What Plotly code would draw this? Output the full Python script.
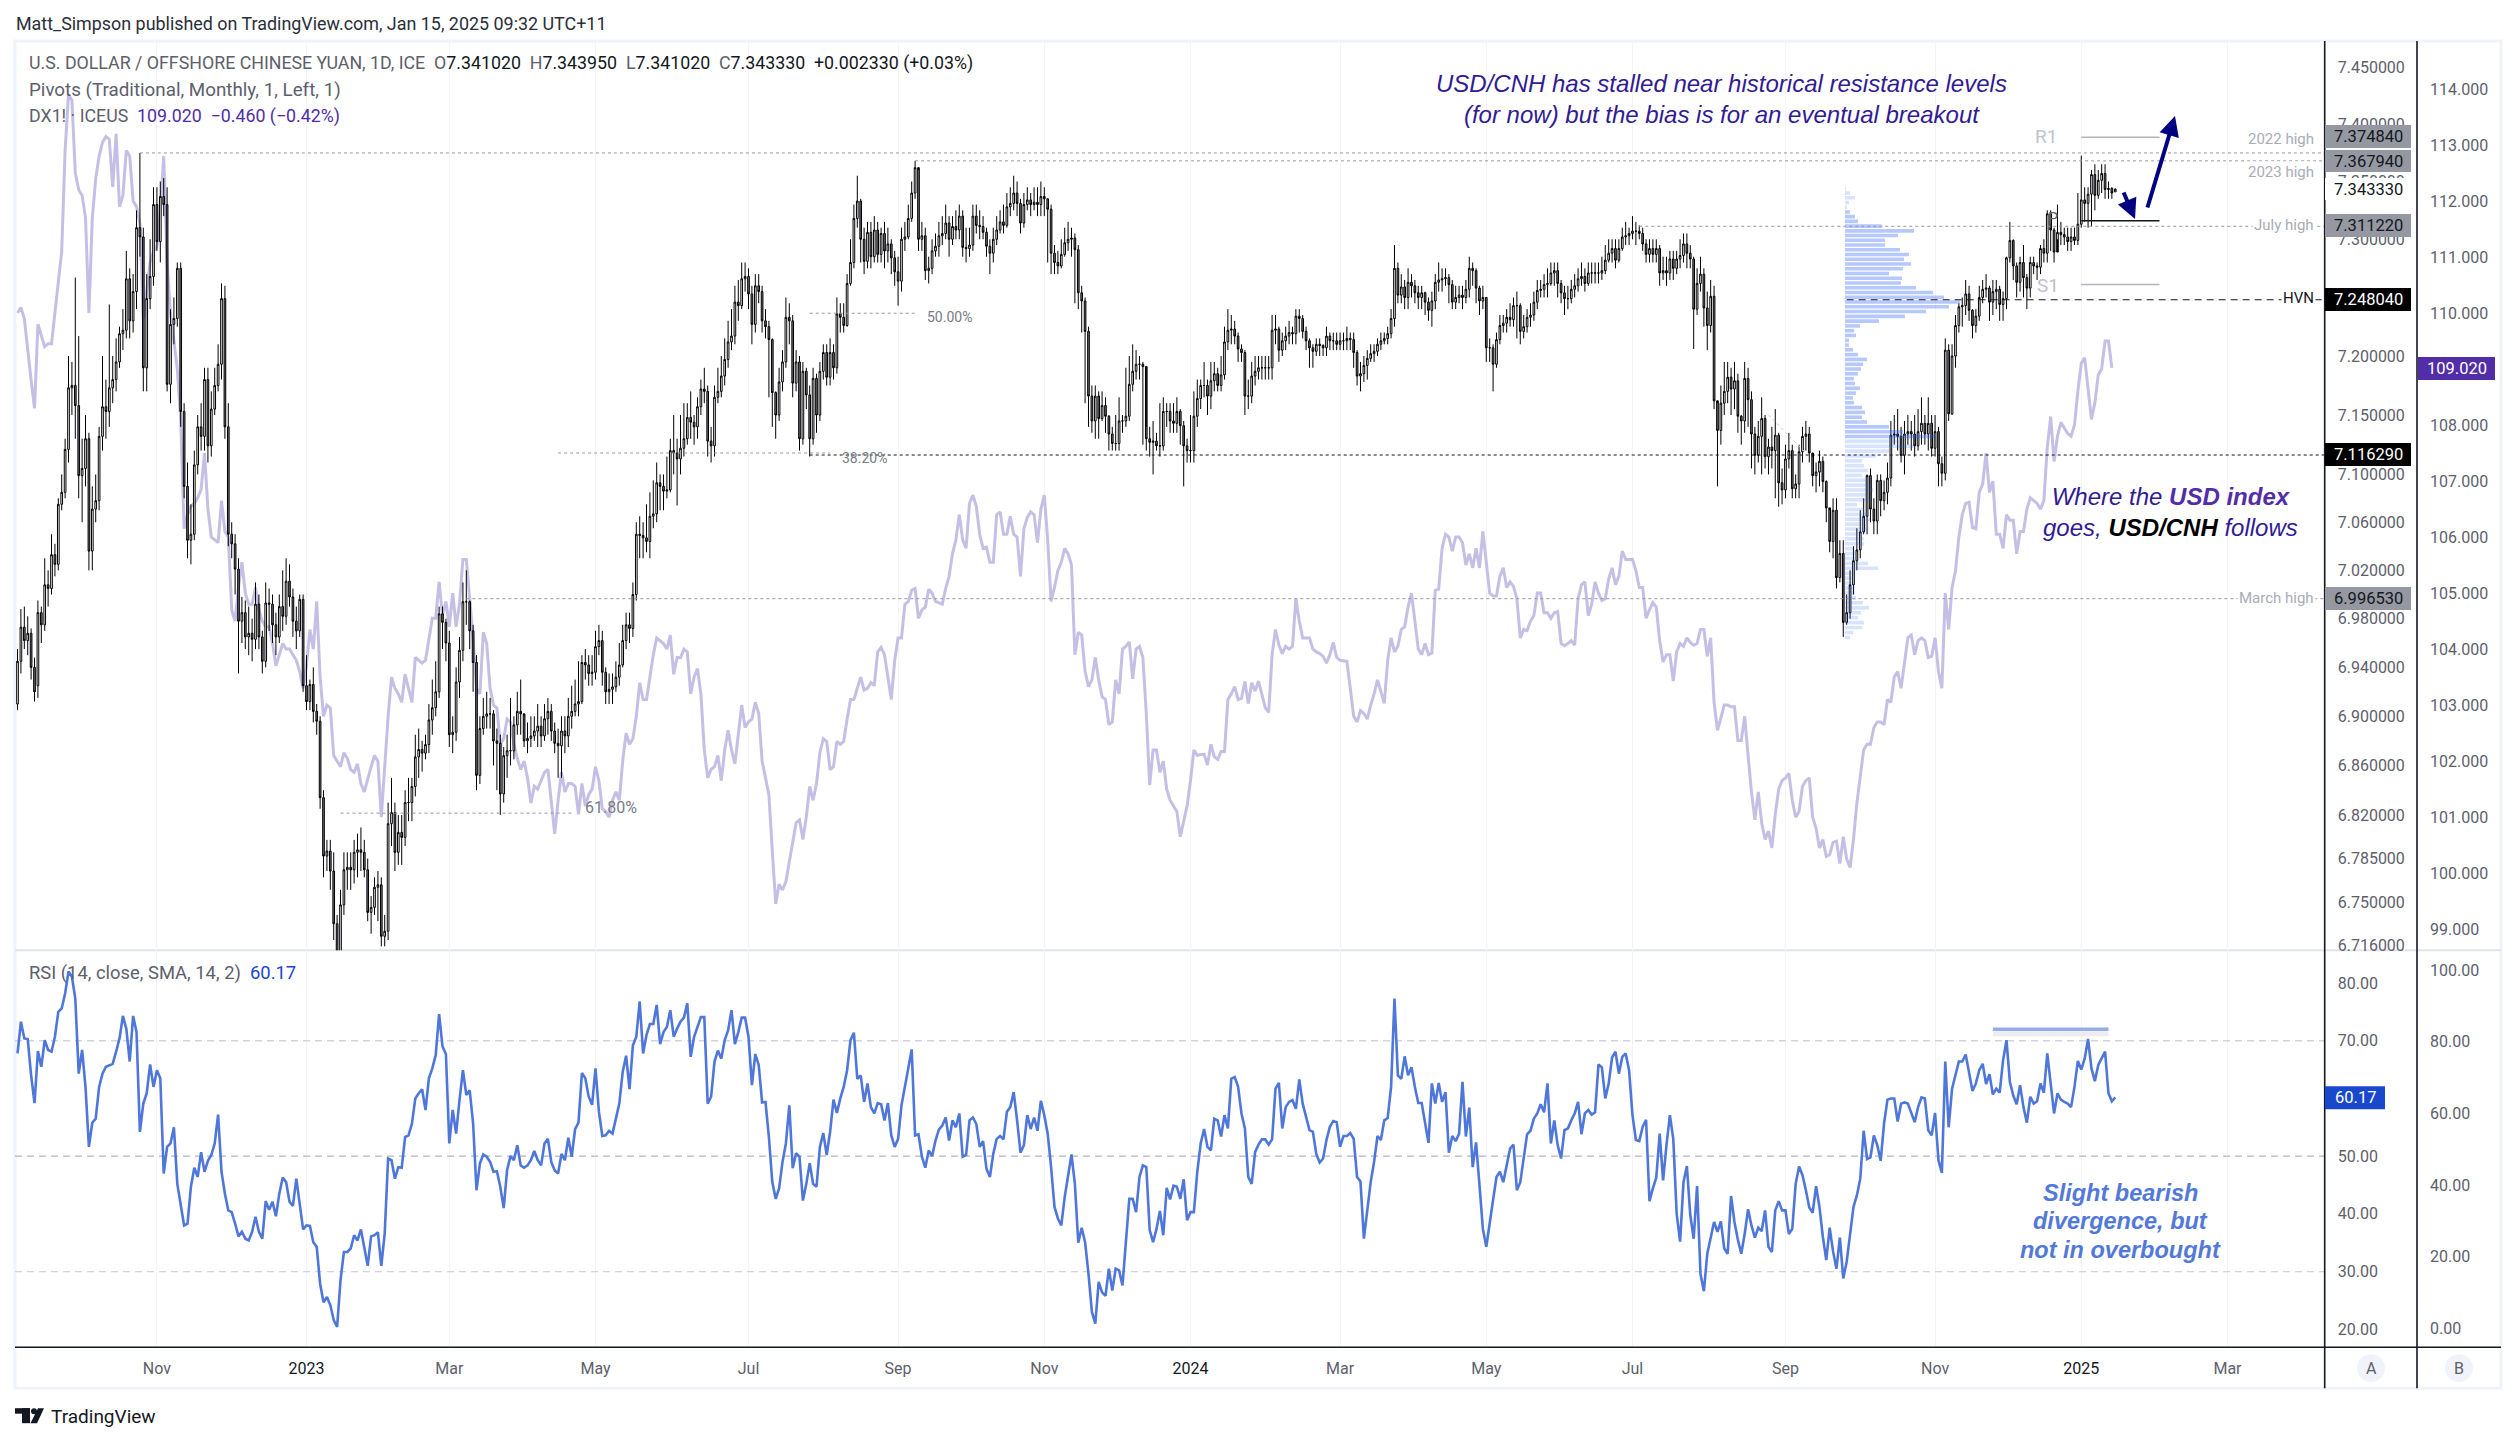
import pandas as pd
import plotly.graph_objects as go

W, H = 2516, 1442

closes = [
6.945,6.973,6.962,6.968,6.940,6.920,6.985,6.975,7.008,7.005,7.033,7.025,7.075,7.085,7.121,7.173,7.175,7.158,7.099,7.105,
7.130,7.036,7.071,7.078,7.132,7.157,7.153,7.173,7.180,7.195,7.219,7.222,7.266,7.230,7.255,7.310,7.302,7.190,7.249,7.268,
7.330,7.298,7.337,7.330,7.176,7.227,7.232,7.275,7.153,7.090,7.045,7.050,7.108,7.140,7.132,7.180,7.124,7.155,7.175,7.193,
7.249,7.140,7.050,7.042,7.021,6.978,6.985,6.965,6.968,6.963,6.992,6.965,6.945,6.993,6.992,6.975,6.965,6.990,6.982,7.011,
6.998,6.978,6.970,6.996,6.925,6.912,6.926,6.904,6.896,6.834,6.787,6.791,6.775,6.733,6.705,6.748,6.776,6.778,6.776,6.790,
6.792,6.790,6.776,6.742,6.746,6.762,6.764,6.723,6.727,6.813,6.822,6.790,6.806,6.802,6.830,6.830,6.843,6.867,6.873,6.870,
6.877,6.897,6.907,6.920,6.984,6.977,6.960,6.885,6.887,6.928,6.954,6.994,6.994,6.970,6.944,6.852,6.890,6.900,6.902,6.902,
6.880,6.878,6.837,6.868,6.872,6.872,6.893,6.904,6.902,6.880,6.882,6.884,6.888,6.892,6.884,6.898,6.904,6.888,6.878,6.876,
6.888,6.884,6.900,6.904,6.910,6.912,6.944,6.942,6.935,6.936,6.957,6.962,6.936,6.920,6.922,6.924,6.932,6.942,6.962,6.975,
6.972,7.000,7.050,7.049,7.047,7.044,7.065,7.067,7.093,7.090,7.086,7.087,7.120,7.118,7.113,7.122,7.130,7.148,7.144,7.140,
7.157,7.172,7.170,7.128,7.124,7.165,7.170,7.183,7.197,7.212,7.217,7.246,7.243,7.266,7.268,7.253,7.227,7.260,7.255,7.230,
7.225,7.214,7.169,7.150,7.178,7.195,7.233,7.230,7.177,7.195,7.130,7.187,7.167,7.130,7.181,7.150,7.187,7.203,7.182,7.203,
7.190,7.236,7.233,7.226,7.262,7.280,7.318,7.333,7.300,7.281,7.306,7.285,7.308,7.287,7.305,7.290,7.296,7.284,7.272,7.264,
7.300,7.302,7.318,7.340,7.362,7.300,7.303,7.273,7.275,7.290,7.294,7.303,7.305,7.314,7.300,7.311,7.308,7.320,7.293,7.292,
7.295,7.320,7.312,7.311,7.306,7.294,7.288,7.300,7.308,7.315,7.312,7.328,7.331,7.340,7.331,7.314,7.330,7.334,7.330,7.332,
7.330,7.337,7.335,7.326,7.288,7.280,7.277,7.287,7.297,7.300,7.301,7.291,7.254,7.247,7.221,7.166,7.145,7.166,7.147,7.158,
7.149,7.134,7.126,7.126,7.145,7.145,7.149,7.176,7.187,7.193,7.193,7.191,7.130,7.127,7.128,7.124,7.124,7.153,7.153,7.145,
7.143,7.153,7.141,7.124,7.120,7.120,7.149,7.164,7.175,7.175,7.166,7.179,7.185,7.175,7.184,7.212,7.222,7.223,7.217,7.206,
7.203,7.166,7.166,7.183,7.187,7.190,7.190,7.190,7.190,7.222,7.223,7.205,7.213,7.217,7.220,7.219,7.234,7.232,7.221,7.213,
7.207,7.204,7.210,7.209,7.207,7.217,7.213,7.213,7.210,7.213,7.213,7.215,7.214,7.203,7.183,7.185,7.192,7.198,7.202,7.204,
7.210,7.213,7.215,7.219,7.232,7.275,7.252,7.259,7.250,7.263,7.260,7.254,7.250,7.254,7.246,7.239,7.247,7.263,7.265,7.266,
7.267,7.261,7.246,7.250,7.252,7.250,7.257,7.275,7.273,7.258,7.247,7.250,7.207,7.207,7.193,7.214,7.226,7.228,7.233,7.231,
7.243,7.243,7.221,7.225,7.233,7.235,7.246,7.256,7.257,7.261,7.262,7.271,7.273,7.262,7.254,7.249,7.249,7.257,7.260,7.266,
7.268,7.262,7.271,7.271,7.271,7.271,7.273,7.282,7.288,7.292,7.282,7.292,7.302,7.303,7.305,7.307,7.307,7.305,7.296,7.287,
7.292,7.287,7.292,7.271,7.273,7.271,7.283,7.275,7.283,7.286,7.296,7.288,7.283,7.240,7.262,7.270,7.241,7.226,7.251,7.162,
7.137,7.160,7.170,7.182,7.172,7.179,7.149,7.145,7.181,7.163,7.134,7.116,7.132,7.147,7.115,7.123,7.120,7.133,7.093,7.087,
7.113,7.120,7.088,7.092,7.119,7.132,7.134,7.118,7.099,7.102,7.111,7.094,7.072,7.044,7.070,7.014,7.034,6.977,6.985,7.008,
7.028,7.037,7.052,7.065,7.099,7.071,7.061,7.095,7.078,7.085,7.097,7.133,7.134,7.132,7.116,7.134,7.136,7.134,7.124,7.136,
7.143,7.134,7.143,7.122,7.136,7.109,7.101,7.205,7.151,7.200,7.226,7.242,7.243,7.253,7.239,7.226,7.234,7.250,7.257,7.258,
7.246,7.255,7.257,7.244,7.249,7.284,7.299,7.277,7.263,7.280,7.267,7.258,7.280,7.277,7.276,7.292,7.288,7.322,7.308,7.289,
7.306,7.304,7.302,7.298,7.302,7.299,7.313,7.334,7.331,7.339,7.356,7.338,7.351,7.357,7.343,7.344,7.340,7.34333,
]

opens = [
6.910,6.945,6.973,6.962,6.968,6.940,6.925,6.985,6.975,7.008,7.005,7.033,7.025,7.075,7.085,7.121,7.173,7.175,7.158,7.099,
7.105,7.130,7.036,7.071,7.078,7.132,7.157,7.153,7.173,7.180,7.195,7.219,7.222,7.266,7.230,7.255,7.310,7.302,7.190,7.249,
7.268,7.330,7.298,7.337,7.330,7.176,7.227,7.232,7.275,7.153,7.090,7.045,7.050,7.108,7.140,7.132,7.180,7.124,7.155,7.175,
7.193,7.249,7.140,7.050,7.042,7.021,6.978,6.985,6.965,6.968,6.963,6.992,6.965,6.945,6.993,6.992,6.975,6.965,6.990,6.982,
7.011,6.998,6.978,6.970,6.996,6.925,6.912,6.926,6.904,6.896,6.834,6.787,6.791,6.775,6.733,6.705,6.748,6.776,6.778,6.776,
6.790,6.792,6.790,6.776,6.742,6.746,6.762,6.764,6.723,6.727,6.813,6.822,6.790,6.806,6.802,6.830,6.830,6.843,6.867,6.873,
6.870,6.877,6.897,6.907,6.920,6.984,6.977,6.960,6.885,6.887,6.928,6.954,6.994,6.994,6.970,6.944,6.852,6.890,6.900,6.902,
6.902,6.880,6.878,6.837,6.868,6.872,6.872,6.893,6.904,6.902,6.880,6.882,6.884,6.888,6.892,6.884,6.898,6.904,6.888,6.878,
6.876,6.888,6.884,6.900,6.904,6.910,6.912,6.944,6.942,6.935,6.936,6.957,6.962,6.936,6.920,6.922,6.924,6.932,6.942,6.962,
6.975,6.972,7.000,7.050,7.049,7.047,7.044,7.065,7.067,7.093,7.090,7.086,7.087,7.120,7.118,7.113,7.122,7.130,7.148,7.144,
7.140,7.157,7.172,7.170,7.128,7.124,7.165,7.170,7.183,7.197,7.212,7.217,7.246,7.243,7.266,7.268,7.253,7.227,7.260,7.255,
7.230,7.225,7.214,7.169,7.150,7.178,7.195,7.233,7.230,7.177,7.195,7.130,7.187,7.167,7.130,7.181,7.150,7.187,7.203,7.182,
7.203,7.190,7.236,7.233,7.226,7.262,7.280,7.318,7.333,7.300,7.281,7.306,7.285,7.308,7.287,7.305,7.290,7.296,7.284,7.272,
7.264,7.300,7.302,7.318,7.340,7.362,7.300,7.303,7.273,7.275,7.290,7.294,7.303,7.305,7.314,7.300,7.311,7.308,7.320,7.293,
7.292,7.295,7.320,7.312,7.311,7.306,7.294,7.288,7.300,7.308,7.315,7.312,7.328,7.331,7.340,7.331,7.314,7.330,7.334,7.330,
7.332,7.330,7.337,7.335,7.326,7.288,7.280,7.277,7.287,7.297,7.300,7.301,7.291,7.254,7.247,7.221,7.166,7.145,7.166,7.147,
7.158,7.149,7.134,7.126,7.126,7.145,7.145,7.149,7.176,7.187,7.193,7.193,7.191,7.130,7.127,7.128,7.124,7.124,7.153,7.153,
7.145,7.143,7.153,7.141,7.124,7.120,7.120,7.149,7.164,7.175,7.175,7.166,7.179,7.185,7.175,7.184,7.212,7.222,7.223,7.217,
7.206,7.203,7.166,7.166,7.183,7.187,7.190,7.190,7.190,7.190,7.222,7.223,7.205,7.213,7.217,7.220,7.219,7.234,7.232,7.221,
7.213,7.207,7.204,7.210,7.209,7.207,7.217,7.213,7.213,7.210,7.213,7.213,7.215,7.214,7.203,7.183,7.185,7.192,7.198,7.202,
7.204,7.210,7.213,7.215,7.219,7.232,7.275,7.252,7.259,7.250,7.263,7.260,7.254,7.250,7.254,7.246,7.239,7.247,7.263,7.265,
7.266,7.267,7.261,7.246,7.250,7.252,7.250,7.257,7.275,7.273,7.258,7.247,7.250,7.207,7.207,7.193,7.214,7.226,7.228,7.233,
7.231,7.243,7.243,7.221,7.225,7.233,7.235,7.246,7.256,7.257,7.261,7.262,7.271,7.273,7.262,7.254,7.249,7.249,7.257,7.260,
7.266,7.268,7.262,7.271,7.271,7.271,7.271,7.273,7.282,7.288,7.292,7.282,7.292,7.302,7.303,7.305,7.307,7.307,7.305,7.296,
7.287,7.292,7.287,7.292,7.271,7.273,7.271,7.283,7.275,7.283,7.286,7.296,7.288,7.283,7.240,7.262,7.270,7.241,7.226,7.251,
7.162,7.137,7.160,7.170,7.182,7.172,7.179,7.149,7.145,7.181,7.163,7.134,7.116,7.132,7.147,7.115,7.123,7.120,7.133,7.093,
7.087,7.113,7.120,7.088,7.092,7.119,7.132,7.134,7.118,7.099,7.102,7.111,7.094,7.072,7.044,7.070,7.014,7.034,6.977,6.985,
7.008,7.028,7.037,7.052,7.065,7.099,7.071,7.061,7.095,7.078,7.085,7.097,7.133,7.134,7.132,7.116,7.134,7.136,7.134,7.124,
7.136,7.143,7.134,7.143,7.122,7.136,7.109,7.101,7.205,7.151,7.200,7.226,7.242,7.243,7.253,7.239,7.226,7.234,7.250,7.257,
7.258,7.246,7.255,7.257,7.244,7.249,7.284,7.299,7.277,7.263,7.280,7.267,7.258,7.280,7.277,7.276,7.292,7.288,7.322,7.308,
7.289,7.306,7.304,7.302,7.298,7.302,7.299,7.313,7.334,7.331,7.339,7.356,7.338,7.351,7.357,7.343,7.344,7.34102,
]

highs = [
6.955,6.988,6.990,6.982,6.972,6.948,6.995,6.990,7.030,7.020,7.050,7.042,7.080,7.100,7.130,7.200,7.195,7.267,7.217,7.130,
7.150,7.135,7.090,7.100,7.140,7.200,7.180,7.244,7.200,7.215,7.225,7.240,7.290,7.275,7.270,7.325,7.3748,7.310,7.270,7.300,
7.345,7.345,7.350,7.353,7.345,7.240,7.250,7.280,7.280,7.160,7.110,7.075,7.120,7.150,7.160,7.190,7.190,7.170,7.190,7.210,
7.262,7.260,7.160,7.060,7.050,7.030,6.998,6.995,6.990,6.980,7.010,7.000,6.970,7.010,7.005,7.000,6.985,7.000,7.020,7.030,
7.025,7.005,6.990,7.000,7.000,6.950,6.930,6.940,6.910,6.900,6.840,6.800,6.800,6.790,6.740,6.760,6.790,6.790,6.790,6.800,
6.805,6.810,6.800,6.785,6.755,6.770,6.775,6.770,6.740,6.830,6.850,6.830,6.820,6.820,6.840,6.850,6.850,6.885,6.890,6.880,
6.885,6.910,6.930,6.945,6.990,6.990,6.980,6.970,6.900,6.940,6.965,7.010,7.020,6.995,6.975,6.950,6.900,6.915,6.920,6.915,
6.905,6.890,6.885,6.875,6.885,6.915,6.900,6.920,6.930,6.900,6.895,6.900,6.900,6.910,6.900,6.910,6.915,6.910,6.895,6.890,
6.900,6.900,6.915,6.925,6.930,6.945,6.950,6.955,6.950,6.950,6.970,6.975,6.970,6.940,6.935,6.935,6.945,6.960,6.975,6.985,
6.985,7.010,7.060,7.065,7.060,7.075,7.085,7.095,7.110,7.100,7.100,7.115,7.130,7.150,7.130,7.150,7.160,7.160,7.170,7.150,
7.165,7.180,7.190,7.175,7.140,7.175,7.190,7.200,7.215,7.230,7.240,7.260,7.265,7.280,7.280,7.275,7.260,7.270,7.270,7.260,
7.240,7.230,7.215,7.170,7.190,7.205,7.250,7.245,7.235,7.205,7.200,7.195,7.190,7.175,7.190,7.185,7.195,7.210,7.210,7.215,
7.210,7.250,7.245,7.245,7.270,7.300,7.330,7.355,7.335,7.310,7.315,7.315,7.320,7.315,7.310,7.315,7.310,7.300,7.290,7.285,
7.310,7.315,7.330,7.350,7.368,7.360,7.315,7.310,7.285,7.300,7.305,7.315,7.320,7.330,7.320,7.320,7.325,7.330,7.325,7.310,
7.310,7.330,7.330,7.325,7.320,7.310,7.300,7.310,7.320,7.325,7.330,7.340,7.345,7.355,7.350,7.335,7.340,7.345,7.340,7.345,
7.345,7.350,7.345,7.335,7.330,7.295,7.290,7.300,7.310,7.315,7.310,7.305,7.295,7.260,7.250,7.225,7.175,7.175,7.170,7.170,
7.165,7.150,7.140,7.150,7.165,7.150,7.190,7.200,7.210,7.205,7.200,7.195,7.140,7.140,7.145,7.135,7.160,7.165,7.160,7.160,
7.160,7.165,7.155,7.145,7.130,7.150,7.170,7.180,7.180,7.195,7.180,7.195,7.195,7.190,7.200,7.225,7.240,7.235,7.230,7.220,
7.210,7.205,7.180,7.195,7.200,7.200,7.200,7.200,7.200,7.235,7.235,7.225,7.220,7.225,7.230,7.225,7.240,7.240,7.235,7.225,
7.215,7.210,7.215,7.215,7.210,7.225,7.220,7.220,7.220,7.220,7.220,7.225,7.220,7.220,7.205,7.195,7.200,7.205,7.210,7.210,
7.215,7.220,7.220,7.225,7.240,7.295,7.280,7.270,7.265,7.275,7.270,7.265,7.260,7.260,7.255,7.250,7.255,7.270,7.280,7.275,
7.275,7.270,7.265,7.260,7.260,7.260,7.265,7.285,7.280,7.275,7.260,7.260,7.250,7.215,7.210,7.220,7.235,7.235,7.240,7.245,
7.250,7.255,7.245,7.235,7.240,7.245,7.255,7.265,7.265,7.270,7.275,7.280,7.280,7.280,7.265,7.260,7.260,7.265,7.270,7.275,
7.280,7.275,7.280,7.280,7.280,7.280,7.285,7.295,7.300,7.300,7.300,7.300,7.310,7.315,7.310,7.320,7.315,7.312,7.310,7.300,
7.300,7.300,7.300,7.295,7.285,7.285,7.290,7.290,7.290,7.300,7.305,7.305,7.295,7.285,7.275,7.285,7.275,7.255,7.265,7.260,
7.160,7.175,7.195,7.195,7.190,7.195,7.185,7.150,7.195,7.190,7.170,7.140,7.145,7.165,7.150,7.130,7.140,7.155,7.135,7.105,
7.125,7.135,7.125,7.100,7.125,7.140,7.145,7.140,7.115,7.110,7.120,7.115,7.095,7.070,7.080,7.080,7.045,7.045,7.000,7.020,
7.040,7.055,7.070,7.080,7.100,7.105,7.080,7.100,7.100,7.095,7.110,7.145,7.150,7.155,7.140,7.145,7.150,7.145,7.150,7.155,
7.165,7.150,7.165,7.150,7.150,7.140,7.115,7.215,7.210,7.210,7.235,7.245,7.250,7.265,7.260,7.240,7.240,7.260,7.265,7.270,
7.260,7.265,7.265,7.260,7.255,7.285,7.315,7.300,7.280,7.285,7.295,7.270,7.285,7.285,7.280,7.295,7.300,7.325,7.325,7.310,
7.330,7.315,7.310,7.310,7.310,7.310,7.340,7.3725,7.345,7.345,7.360,7.365,7.360,7.365,7.365,7.350,7.345,7.34395,
]

lows = [
6.905,6.935,6.955,6.950,6.930,6.912,6.915,6.960,6.970,6.990,7.000,7.015,7.020,7.070,7.080,7.110,7.150,7.130,7.080,7.060,
7.090,7.020,7.020,7.060,7.070,7.120,7.130,7.140,7.160,7.170,7.190,7.205,7.215,7.215,7.220,7.240,7.285,7.170,7.170,7.240,
7.260,7.290,7.280,7.320,7.170,7.160,7.210,7.225,7.140,7.080,7.030,7.025,7.045,7.100,7.120,7.120,7.110,7.115,7.150,7.170,
7.180,7.130,7.040,7.030,7.000,6.935,6.960,6.955,6.950,6.945,6.955,6.955,6.935,6.940,6.970,6.960,6.950,6.960,6.970,6.975,
6.990,6.965,6.955,6.965,6.920,6.905,6.905,6.895,6.885,6.825,6.770,6.775,6.760,6.720,6.690,6.700,6.740,6.760,6.760,6.765,
6.770,6.775,6.770,6.735,6.725,6.740,6.735,6.715,6.715,6.720,6.795,6.775,6.780,6.780,6.795,6.815,6.815,6.835,6.850,6.855,
6.865,6.870,6.885,6.900,6.915,6.955,6.945,6.875,6.870,6.880,6.915,6.945,6.975,6.955,6.920,6.840,6.845,6.885,6.890,6.890,
6.860,6.840,6.820,6.830,6.850,6.860,6.865,6.885,6.885,6.875,6.870,6.875,6.880,6.875,6.875,6.880,6.885,6.880,6.870,6.850,
6.850,6.870,6.875,6.890,6.900,6.900,6.910,6.930,6.925,6.925,6.930,6.950,6.925,6.910,6.910,6.910,6.920,6.925,6.940,6.955,
6.960,6.965,6.995,7.030,7.030,7.035,7.030,7.055,7.060,7.070,7.070,7.080,7.085,7.100,7.074,7.100,7.115,7.125,7.130,7.125,
7.130,7.150,7.160,7.115,7.110,7.115,7.160,7.165,7.175,7.190,7.205,7.210,7.230,7.240,7.255,7.240,7.210,7.220,7.245,7.220,
7.215,7.165,7.140,7.130,7.145,7.170,7.190,7.210,7.165,7.170,7.120,7.125,7.155,7.115,7.125,7.135,7.145,7.180,7.175,7.175,
7.180,7.185,7.220,7.220,7.225,7.260,7.275,7.310,7.280,7.270,7.275,7.275,7.280,7.280,7.280,7.275,7.280,7.270,7.260,7.243,
7.255,7.290,7.300,7.315,7.335,7.290,7.290,7.265,7.262,7.270,7.285,7.285,7.295,7.300,7.285,7.295,7.300,7.300,7.285,7.280,
7.285,7.290,7.305,7.300,7.300,7.285,7.270,7.280,7.295,7.305,7.305,7.310,7.320,7.325,7.320,7.305,7.310,7.325,7.320,7.325,
7.320,7.320,7.320,7.280,7.270,7.270,7.270,7.275,7.285,7.290,7.285,7.245,7.240,7.220,7.160,7.140,7.135,7.130,7.130,7.145,
7.135,7.120,7.120,7.120,7.120,7.135,7.140,7.145,7.170,7.180,7.180,7.125,7.120,7.115,7.100,7.120,7.115,7.120,7.140,7.135,
7.135,7.135,7.125,7.090,7.110,7.110,7.110,7.140,7.155,7.165,7.150,7.155,7.170,7.170,7.170,7.180,7.205,7.210,7.210,7.195,
7.195,7.150,7.155,7.160,7.175,7.180,7.180,7.180,7.180,7.180,7.210,7.195,7.200,7.205,7.210,7.210,7.210,7.220,7.215,7.205,
7.190,7.190,7.200,7.200,7.200,7.200,7.205,7.205,7.205,7.205,7.205,7.205,7.205,7.190,7.175,7.170,7.178,7.180,7.195,7.195,
7.200,7.205,7.210,7.210,7.215,7.225,7.245,7.245,7.240,7.240,7.250,7.245,7.240,7.240,7.235,7.230,7.225,7.240,7.255,7.255,
7.260,7.245,7.240,7.240,7.245,7.240,7.245,7.250,7.260,7.245,7.235,7.240,7.195,7.195,7.170,7.190,7.210,7.220,7.220,7.225,
7.225,7.215,7.210,7.215,7.220,7.225,7.230,7.240,7.250,7.250,7.250,7.260,7.260,7.250,7.245,7.235,7.240,7.245,7.250,7.255,
7.260,7.255,7.260,7.262,7.262,7.262,7.265,7.270,7.280,7.280,7.275,7.280,7.290,7.295,7.295,7.300,7.295,7.300,7.290,7.280,
7.280,7.280,7.280,7.260,7.265,7.260,7.265,7.265,7.270,7.275,7.280,7.275,7.275,7.206,7.235,7.255,7.225,7.205,7.220,7.155,
7.090,7.125,7.150,7.160,7.150,7.155,7.135,7.125,7.135,7.140,7.105,7.100,7.110,7.100,7.105,7.100,7.105,7.080,7.073,7.075,
7.080,7.105,7.080,7.080,7.080,7.110,7.120,7.110,7.090,7.085,7.090,7.085,7.060,7.035,7.030,7.005,7.010,6.965,6.975,6.980,
7.000,7.020,7.030,7.050,7.050,7.060,7.050,7.050,7.065,7.070,7.075,7.090,7.125,7.120,7.110,7.100,7.125,7.120,7.115,7.120,
7.125,7.125,7.120,7.115,7.115,7.090,7.090,7.095,7.145,7.150,7.190,7.220,7.225,7.235,7.230,7.215,7.220,7.230,7.245,7.250,
7.230,7.235,7.240,7.230,7.230,7.240,7.280,7.265,7.250,7.255,7.250,7.240,7.250,7.270,7.265,7.270,7.280,7.280,7.290,7.280,
7.300,7.295,7.295,7.290,7.290,7.295,7.295,7.310,7.315,7.310,7.311,7.325,7.335,7.340,7.335,7.335,7.335,7.341,
]

dx_close = [
110.0,110.1,109.9,109.3,108.8,108.3,109.8,109.6,109.4,109.45,109.45,110.0,110.5,111.1,112.9,113.9,113.8,112.5,112.2,112.1,
111.7,110.0,111.7,112.4,112.8,113.05,113.15,113.1,112.25,113.2,111.9,112.1,112.9,112.8,112.0,111.9,111.6,109.9,110.4,110.9,
111.1,111.2,111.8,112.8,110.9,110.0,109.5,109.0,108.1,106.15,106.4,106.55,106.6,106.7,106.85,107.5,106.5,106.0,105.95,105.9,
106.65,106.1,106.0,104.7,104.5,105.1,105.55,105.0,104.8,104.8,105.1,104.7,104.5,104.4,104.4,104.1,103.7,103.9,104.1,104.0,
104.0,103.9,103.8,103.6,103.3,103.7,104.35,104.0,104.85,103.5,102.8,103.0,102.95,102.1,102.0,101.9,102.15,102.05,101.85,101.8,
101.95,101.6,101.45,101.7,101.9,102.1,102.0,101.0,102.0,102.8,103.5,103.3,103.2,103.05,103.55,103.3,103.05,103.85,103.8,103.75,
103.8,104.2,104.55,104.55,105.2,104.6,104.85,104.4,105.0,104.4,104.8,105.6,105.6,104.9,104.2,103.3,103.2,104.3,104.1,103.3,
103.0,102.95,102.3,102.4,102.75,102.7,102.3,102.05,101.85,102.0,101.7,101.25,101.55,101.5,101.65,101.8,101.85,101.3,100.7,101.3,
101.8,101.45,101.6,101.6,101.55,101.05,101.6,101.2,101.4,101.5,101.9,101.65,101.15,101.1,101.0,101.3,101.45,101.3,102.0,102.5,
102.3,102.4,102.8,103.4,103.1,103.1,103.5,103.9,104.2,104.15,104.1,104.0,104.25,103.55,103.85,103.85,104.0,103.95,103.2,103.5,
103.65,103.2,102.2,101.7,101.85,101.9,102.1,101.65,102.2,102.55,102.2,101.95,102.5,103.0,102.6,102.7,102.75,103.05,102.85,102.0,
101.7,101.4,100.4,99.45,99.8,99.7,99.85,100.2,100.6,100.9,100.95,100.6,101.0,101.55,101.3,101.6,102.15,102.4,102.35,101.85,
101.9,102.35,102.3,102.35,102.75,103.1,103.1,103.3,103.5,103.27,103.3,103.4,103.35,103.95,104.03,103.9,103.5,103.1,103.8,104.2,
104.2,104.8,104.85,105.05,105.08,104.55,104.7,104.75,105.07,105.0,104.85,104.83,104.8,105.08,105.3,105.7,105.95,106.4,105.95,105.8,
106.6,106.75,106.55,106.05,105.8,105.82,105.55,105.55,106.4,106.45,106.05,106.05,106.37,106.05,106.0,105.3,106.15,106.35,106.45,106.4,
105.9,106.5,106.75,105.95,104.85,105.1,105.4,105.55,105.8,105.7,105.5,103.9,104.3,104.25,103.6,103.33,103.45,103.85,103.45,103.15,
103.1,102.65,102.7,103.45,103.2,104.0,104.05,104.13,103.47,104.0,104.05,103.85,102.85,101.57,102.2,102.2,101.8,102.0,101.5,101.3,
101.2,101.1,100.65,100.9,101.2,101.65,102.2,102.1,102.12,102.12,101.93,102.3,102.08,102.03,102.17,102.17,103.1,103.2,103.33,103.1,
103.12,103.42,103.03,103.4,103.25,103.43,103.2,102.95,102.87,103.9,104.35,104.07,103.92,104.05,104.0,104.05,104.9,104.5,104.2,104.2,
104.2,104.0,103.95,103.92,103.87,103.75,103.9,104.12,103.85,103.8,103.79,103.78,103.3,102.8,102.7,102.9,102.85,102.75,103.0,103.2,
103.45,103.25,103.03,103.8,104.2,103.95,104.05,104.35,104.4,104.75,105.0,104.5,104.0,103.9,104.1,103.9,103.93,105.05,105.07,105.8,
106.05,106.0,105.75,106.0,106.0,105.9,105.5,105.7,105.45,105.8,105.45,106.1,105.6,105.0,104.95,104.95,105.3,105.45,105.1,105.2,
105.12,104.9,104.2,104.35,104.33,104.5,104.6,105.0,105.0,104.65,104.65,104.55,104.65,104.67,104.1,104.06,104.1,104.15,104.07,104.9,
105.15,105.2,104.6,104.8,105.2,105.0,104.87,104.9,105.25,105.45,105.15,105.3,105.75,105.6,105.6,105.6,105.4,105.1,105.1,104.55,
104.7,104.83,104.75,104.15,103.77,103.9,103.9,103.43,103.95,104.1,104.05,104.2,104.12,104.07,104.1,104.35,104.35,103.87,104.2,103.05,
102.55,102.8,103.0,103.0,102.97,102.97,102.37,102.37,102.8,102.1,101.45,100.95,101.45,100.9,100.6,100.75,100.45,101.05,101.5,101.65,
101.7,101.78,101.3,101.0,101.1,101.55,101.65,101.7,101.0,100.8,100.45,100.6,100.3,100.33,100.55,100.57,100.17,100.65,100.25,100.1,
100.6,101.25,101.7,102.2,102.3,102.3,102.6,102.7,102.7,102.65,103.1,103.05,103.5,103.6,103.3,103.8,104.2,104.25,103.9,104.15,
104.2,104.15,103.85,103.87,104.2,103.6,103.3,105.0,104.35,105.1,105.4,106.0,106.4,106.6,106.62,106.17,106.15,106.8,106.95,107.5,
106.8,107.0,106.05,106.05,105.8,106.4,106.3,106.3,105.7,106.1,106.1,106.5,106.7,106.65,106.6,106.5,106.65,107.6,108.15,107.35,
107.8,108.05,107.95,107.85,107.8,108.0,108.6,109.1,109.2,108.6,108.1,108.4,108.9,109.0,109.5,109.5,109.02,
]

rsi = [
67.8,73.3,70.4,70.3,64,59.2,68.2,65.5,70.1,68.4,68.1,70.7,75,75.6,78.2,82,81.1,77.3,64.3,68.4,
62,51.6,55.8,56.5,62,64.3,65.5,65.8,66,68.1,70.4,74.3,72.1,66.4,74.3,71.5,54.2,59.1,60.9,65.9,
62,64.9,63.5,47,51.6,52.2,55,45.2,41.2,38,38.3,44.7,48,46.4,50.7,47.3,49.2,50.2,52.2,57.2,
47.3,43.5,40.6,40.3,38.3,36.1,36.9,35.7,35.4,36.9,39.5,36.9,35.7,42.2,40.7,42.1,39.6,43.5,46.3,45.5,
42.1,41.4,46.1,42.1,37.3,38,37.9,35.1,34.3,27.9,24.7,25.6,24.2,21.6,20.4,28.5,33.4,33.4,34,36.3,
35.4,37.3,34,31,36.1,36.3,36.8,31,36.6,49.6,49.3,46.1,48.1,48,53.3,53.6,55.6,60,60.9,61.6,
58,63.5,65.2,67.5,74.6,69,67.7,52.2,58,53.9,59.7,64.9,60.6,61.4,55.7,44.1,48.7,50.3,49.9,49,
47.3,47.4,44.7,41,47.6,50,49.3,51.9,48.4,48,48.4,49.3,50.9,49.3,48.4,52.2,53,49,47.5,47,
50.4,49.3,53.2,49.9,54.7,55.8,64.4,63.5,60.3,58.9,65.2,57.7,53.5,53.6,54.4,53.9,56.5,59.1,64.6,67.4,
61.6,69.2,70.7,76.8,67.8,71,72.9,72.9,76.2,69.4,71.5,72.4,75.3,70.7,72.1,73.3,74,76.5,67.2,70.7,
72.4,74.1,74.1,59.1,60.3,66.4,68.3,66.9,70.1,71.8,75.3,69.4,71.5,74,74,70.7,62.3,67.7,65.8,59.3,
59.4,53.3,45.5,42.6,44.4,49,52.2,58.8,47.9,50.5,49.9,42.3,45.2,48.8,45.2,44.7,51.6,54,50.2,54.2,
59.8,57.5,60,62,64.9,70.1,71.4,63.4,64,59.4,62.6,58.5,57.4,59.2,59,56.2,59.2,53.6,51.6,53,
58.8,62,65.8,68.5,53.6,53.8,49.9,48,51,50,52.7,54.6,55.3,56.7,52.7,56.2,55,57.4,49.9,50.2,
56.2,56.7,55.6,51.6,52.6,47.8,46.4,50.4,53,53.5,52.9,57.7,58.5,61.1,56.2,50.6,51.9,57.1,54.7,56.7,
54.4,59.6,57.1,53.9,48.1,41.2,39.2,38,42.9,46.4,50.3,45.2,35,37.6,35.1,29.6,23,21,28.2,26.4,
25.8,30.5,26.7,30.5,30.2,27.6,36,42.6,42.6,40.3,46.4,48.4,48.1,37.2,35.1,37.4,40.5,36.3,44.5,42.5,
44.9,44.7,42.6,46,38.9,40.3,40.3,47.3,52.2,54.7,51.6,51,56.5,56.2,53.4,57.1,54.8,63.4,63.7,62,
57.4,54.8,46.4,45.2,50.7,52,52.9,52.9,52,52.9,61.7,62.7,54.8,58.5,59.4,59.7,58.2,63.3,59.1,56.8,
54.5,54.2,50.4,48.9,49.6,52.8,55.1,56.1,55.9,51.6,53.5,53.5,54,53,46.4,45.6,35.7,40.6,45.5,49,
53.5,52.8,56.2,56.6,62,77.3,64,63.4,67.3,64,65.4,62,59.2,59.2,55.6,52.3,62.6,59.1,62.7,59.4,
61.1,50.6,53.5,52.6,53.9,62.9,53.4,58.4,48.1,52.4,45,37.4,34.3,38,42.4,46.4,47.3,45.5,48.4,51.3,
52,44.1,45.5,49.3,53.8,54.4,56.5,57.4,59,57.6,62.6,52.2,56.2,51.9,49.6,54.5,54.8,56.2,57.4,59.4,
53.8,57.4,58,57.2,57.6,65.9,65.4,60,62.6,67.1,68.1,64.3,67.2,67.8,64.9,57.1,52.8,52.6,55.1,56.3,
42.2,44.4,46.3,53.9,45.8,51.9,57.1,53,40,35.2,45.5,48.3,39.8,35.7,44.8,29.6,26.6,33.1,35.7,38.6,
36.9,38.7,34,33.1,43.1,38.6,35.5,33.1,36.5,40.8,38,35.9,37.6,37,40.6,34.3,33.4,40.6,42.2,40.6,
40.6,36.5,37.4,45.2,48.2,46.7,44.1,41.1,40.2,44.8,41.2,36,32,37.6,33.5,30.5,35.9,28.8,31.7,36.6,
41.2,43.2,46.1,54.4,49.5,49.8,53.6,51.9,49.2,55.7,59.8,60,60,56,59.1,59.3,59.1,57.5,55.9,58.5,
60.2,60,54.5,53.6,57.5,49.3,47.1,66.4,55,61.7,64.3,66.4,66.4,67.6,64.5,61.3,62.6,64.9,66,62.5,
64.2,60.7,61.7,61,66.6,70.1,62.9,60.5,59,62.3,58.5,55.8,60.3,59.1,59.5,62.6,61,67.8,62.6,57.4,
60.9,59.8,59.4,59.1,58.5,62,66.5,65,66.9,70.3,65.2,63,65.8,67,68.1,60.9,59.5,60.17,
]

# fixed range volume profile, one row per price bin from the top down
vp_volume = [
3,15,30,12,6,15,30,39,110,207,159,120,120,165,192,177,198,174,132,171,168,213,264,297,345,312,243,180,102,45,
27,33,12,12,24,39,66,54,48,39,27,30,45,33,24,27,51,60,51,66,132,174,267,162,210,135,93,51,57,69,
51,70,75,85,65,75,36,57,70,75,63,70,52,56,57,27,33,35,69,99,27,24,20,30,30,33,54,72,48,39,57,51,25,15,
]
vp_top, vp_step = 7.344, 0.00408

price_ticks = [7.45, 7.40, 7.35, 7.30, 7.25, 7.20, 7.15, 7.10, 7.06, 7.02, 6.98, 6.94, 6.90, 6.86, 6.82, 6.785, 6.75, 6.716]
dx_ticks = [114, 113, 112, 111, 110, 109, 108, 107, 106, 105, 104, 103, 102, 101, 100, 99]
rsi_ticks = [80, 70, 60, 50, 40, 30, 20]
rsi_b_ticks = [100, 80, 60, 40, 20, 0]
month_dates = ["2022-11-01", "2023-01-02", "2023-03-01", "2023-05-01", "2023-07-03", "2023-09-01", "2023-11-01",
               "2024-01-01", "2024-03-01", "2024-05-01", "2024-07-01", "2024-09-02", "2024-11-01", "2025-01-01", "2025-03-03"]
month_labels = ["Nov", "2023", "Mar", "May", "Jul", "Sep", "Nov", "2024", "Mar", "May", "Jul", "Sep", "Nov", "2025", "Mar"]

GREY = "#5d606b"
DARK = "#131722"
LEVEL = "#9598a1"
PURPLE = "#512da8"
INDIGO = "#311b92"
BLUE = "#5279d9"
GAP = "\u00a0\u00a0"


def px(x):
    return x / W


# 1436.8 rather than 1442: the picture comes out about 5px short over its height otherwise
def py(y):
    return 1 - y / 1436.8


bars = list(range(len(closes)))
sessions = pd.bdate_range("2022-09-05", periods=720)
month_bars = [int(sessions.searchsorted(pd.Timestamp(d))) for d in month_dates]
x_range = [-0.74, 678.6]

fig = go.Figure()

fig.add_trace(go.Scatter(x=list(range(len(dx_close))), y=dx_close, yaxis="y", xaxis="x", mode="lines",
                         line=dict(color="#c6bfe5", width=3)))

# volume profile rows as thick flat strokes
vp_x, vp_y, vp_x2, vp_y2 = [], [], [], []
for i, v in enumerate(vp_volume):
    p = vp_top - i * vp_step
    if 5 <= i <= 52:
        vp_x += [537.5, 537.5 + v / 10.2, None]
        vp_y += [p, p, None]
    else:
        vp_x2 += [537.5, 537.5 + v / 10.2, None]
        vp_y2 += [p, p, None]
fig.add_trace(go.Scatter(x=vp_x, y=vp_y, yaxis="y2", mode="lines", line=dict(color="rgba(41,98,255,0.34)", width=3.6)))
fig.add_trace(go.Scatter(x=vp_x2, y=vp_y2, yaxis="y2", mode="lines", line=dict(color="rgba(41,98,255,0.18)", width=3.6)))

# horizontal levels: first bar, last bar, price, colour, dash, width
levels = [
    (36, x_range[1], 7.37484, LEVEL, "dot", 1),
    (264, x_range[1], 7.36794, LEVEL, "dot", 1),
    (477, x_range[1], 7.31122, LEVEL, "dot", 1),
    (132, x_range[1], 6.99653, LEVEL, "dot", 1),
    (538, x_range[1], 7.24804, DARK, "7px,5px", 1.2),
    (233, x_range[1], 7.11629, DARK, "dot", 1),
    (159, 239, 7.118, LEVEL, "dot", 1),
    (233, 264, 7.2365, LEVEL, "dot", 1),
    (95, 163, 6.8215, LEVEL, "dot", 1),
    (607, 630, 7.3886, "#b2b5be", "solid", 1.5),
    (607, 630, 7.261, "#b2b5be", "solid", 1.5),
    (607, 630, 7.316, DARK, "solid", 1.5),
]
for b0, b1, lvl, col, dash, wd in levels:
    fig.add_trace(go.Scatter(x=[b0, b1], y=[lvl, lvl], yaxis="y2", mode="lines", line=dict(color=col, dash=dash, width=wd)))
fig.add_trace(go.Scatter(x=[515, 526], y=[7.15, 7.118], yaxis="y2", mode="lines", line=dict(color="#c8cad2", dash="dot", width=1)))

fig.add_trace(go.Candlestick(
    x=bars, open=opens, high=highs, low=lows, close=closes, yaxis="y2", xaxis="x", whiskerwidth=0,
    increasing=dict(line=dict(color="#000000", width=1), fillcolor="#ffffff"),
    decreasing=dict(line=dict(color="#000000", width=1), fillcolor="#6f727d"),
))

# RSI pane
for lvl, col in [(70, "#d1d4dc"), (50, "#b2b5be"), (30, "#d1d4dc")]:
    fig.add_trace(go.Scatter(x=[x_range[0], x_range[1]], y=[lvl, lvl], xaxis="x2", yaxis="y3", mode="lines",
                             line=dict(color=col, width=1.3, dash="7px,5px")))
fig.add_trace(go.Scatter(x=[581, 615], y=[71.2, 71.2], xaxis="x2", yaxis="y3", mode="lines", line=dict(color="#ededf0", width=5)))
fig.add_trace(go.Scatter(x=[581, 615], y=[72.0, 72.0], xaxis="x2", yaxis="y3", mode="lines", line=dict(color="#97abe6", width=3.5)))
fig.add_trace(go.Scatter(x=list(range(len(rsi))), y=rsi, xaxis="x2", yaxis="y3", mode="lines", line=dict(color="#4f77d9", width=2.6)))
fig.add_trace(go.Scatter(x=[0], y=[50], xaxis="x2", yaxis="y4", mode="markers", marker=dict(opacity=0)))

axis_font = dict(family="Roboto", size=16, color=GREY)
main_dom = [py(950), py(41)]
rsi_dom = [py(1347), py(950)]
x_dom = [px(15), px(2324.7)]
shared_x = dict(domain=x_dom, range=x_range, showgrid=True, gridcolor="#f2f4f9", gridwidth=1, zeroline=False,
                tickmode="array", tickvals=month_bars, showline=False)

fig.update_layout(
    width=W, height=H, margin=dict(l=0, r=0, t=0, b=0), paper_bgcolor="white", plot_bgcolor="rgba(0,0,0,0)",
    showlegend=False,
    xaxis=dict(anchor="y", showticklabels=False, rangeslider=dict(visible=False), **shared_x),
    xaxis2=dict(anchor="y3", ticktext=[f'<span style="color:{DARK}">{t}</span>' if t.isdigit() else t for t in month_labels],
                tickfont=axis_font, ticks="", ticklabelstandoff=10, **shared_x),
    yaxis=dict(domain=main_dom, anchor="free", position=px(2417), side="right", range=[98.625, 114.857], zeroline=False,
               showgrid=False, tickmode="array", tickvals=dx_ticks, tickformat=".3f", tickfont=axis_font, ticklabelstandoff=12),
    yaxis2=dict(domain=main_dom, anchor="x", overlaying="y", side="right", type="log", zeroline=False, showgrid=False,
                range=[0.826852, 0.873495], tickmode="array", tickvals=price_ticks, tickformat=".6f", tickfont=axis_font,
                ticklabelstandoff=12),
    yaxis3=dict(domain=rsi_dom, anchor="x2", side="right", range=[16.9, 85.7], zeroline=False, showgrid=False,
                tickmode="array", tickvals=rsi_ticks, tickformat=".2f", tickfont=axis_font, ticklabelstandoff=12),
    yaxis4=dict(domain=rsi_dom, anchor="free", position=px(2417), overlaying="y3", side="right", range=[-5.3, 105.6],
                zeroline=False, showgrid=False, tickmode="array", tickvals=rsi_b_ticks, tickformat=".2f", tickfont=axis_font,
                ticklabelstandoff=12),
)

shapes = [
    dict(type="rect", x0=px(15), x1=px(2501), y0=py(41), y1=py(1388), line=dict(color="#f0f3fa", width=3), layer="below"),
    dict(type="line", x0=px(15), x1=px(2501), y0=py(950), y1=py(950), line=dict(color="#e0e3eb", width=2), layer="below"),
    dict(type="line", x0=px(15), x1=px(2501), y0=py(1347), y1=py(1347), line=dict(color="#131722", width=1.6)),
    dict(type="line", x0=px(2324.7), x1=px(2324.7), y0=py(41), y1=py(1388), line=dict(color="#131722", width=1.6)),
    dict(type="line", x0=px(2417), x1=px(2417), y0=py(41), y1=py(1388), line=dict(color="#131722", width=1.6)),
    dict(type="circle", x0=px(2357), x1=px(2385), y0=py(1354), y1=py(1382), fillcolor="#f0f3fa", line=dict(width=0)),
    dict(type="circle", x0=px(2445), x1=px(2473), y0=py(1354), y1=py(1382), fillcolor="#f0f3fa", line=dict(width=0)),
]
for s in shapes:
    s.update(xref="paper", yref="paper")

annotations = []


def note(text, x, y, size=17.8, color=GREY, anchor="left", family="Roboto", **kw):
    annotations.append(dict(text=text, x=px(x), y=py(y), xref="paper", yref="paper", xanchor=anchor, yanchor="middle",
                            showarrow=False, font=dict(family=family, size=size, color=color), **kw))


def badge(label, x0, x1, y0, y1, fill, color):
    shapes.append(dict(type="rect", xref="paper", yref="paper", x0=px(x0), x1=px(x1), y0=py(y0), y1=py(y1),
                       fillcolor=fill, line=dict(width=0), layer="above"))
    note(label, (x0 + x1) / 2, (y0 + y1) / 2, size=16.5, color=color, anchor="center")


badge("7.374840", 2325, 2411, 125, 148, "#9598a1", DARK)
badge("7.367940", 2325, 2411, 150, 172, "#9598a1", DARK)
badge("7.343330", 2325, 2411, 178, 200, "#ffffff", DARK)
badge("7.311220", 2325, 2411, 214, 237, "#9598a1", DARK)
badge("7.248040", 2325, 2411, 288, 311, "#000000", "#ffffff")
badge("7.116290", 2325, 2411, 443, 466, "#000000", "#ffffff")
badge("6.996530", 2325, 2411, 587, 610, "#9598a1", DARK)
badge("109.020", 2418, 2495, 357, 380, PURPLE, "#ffffff")
badge("60.17", 2325, 2385, 1086, 1109, "#1848cc", "#ffffff")

note("Matt_Simpson published on TradingView.com, Jan 15, 2025 09:32 UTC+11", 14, 23, size=17.9, color="#2a2e39")
note(f'U.S. DOLLAR / OFFSHORE CHINESE YUAN, 1D, ICE{GAP}O<span style="color:{DARK}">7.341020</span>{GAP}'
     f'H<span style="color:{DARK}">7.343950</span>{GAP}L<span style="color:{DARK}">7.341020</span>{GAP}'
     f'C<span style="color:{DARK}">7.343330</span>{GAP}<span style="color:{DARK}">+0.002330 (+0.03%)</span>', 27, 63)
note("Pivots (Traditional, Monthly, 1, Left, 1)", 27, 90, size=18.8)
note(f'DX1! · ICEUS{GAP}<span style="color:{PURPLE}">109.020{GAP}−0.460 (−0.42%)</span>', 27, 116)
note(f'RSI (14, close, SMA, 14, 2){GAP}<span style="color:#1848cc">60.17</span>', 27, 973, size=18.4)

note("2022 high", 2316, 139, size=15, color="#a9acb5", anchor="right", bgcolor="#ffffff")
note("2023 high", 2316, 172, size=15, color="#a9acb5", anchor="right", bgcolor="#ffffff")
note("July high", 2316, 225, size=15, color="#a9acb5", anchor="right", bgcolor="#ffffff")
note("HVN", 2316, 298, size=15, color=DARK, anchor="right", bgcolor="#ffffff")
note("March high", 2316, 598, size=15, color="#a9acb5", anchor="right", bgcolor="#ffffff")
note("R1", 2046, 136, size=19, color="#c0c3cc", anchor="center")
note("S1", 2048, 285, size=19, color="#c0c3cc", anchor="center")
note("P", 2053, 218, size=16, color="#5d606b", anchor="center")
note("50.00%", 949, 317, size=14, color="#787b86", anchor="center")
note("38.20%", 864, 458, size=14, color="#787b86", anchor="center")
note("61.80%", 611, 807, size=16, color="#787b86", anchor="center")

note("<i>USD/CNH has stalled near historical resistance levels<br>(for now) but the bias is for an eventual breakout</i>",
     1722, 99, size=24, color=INDIGO, anchor="center", family="Liberation Sans")
note(f'<i>Where the <b><span style="color:{PURPLE}">USD index</span></b><br>goes, <b><span style="color:#000000">USD/CNH</span></b> follows</i>',
     2170, 512, size=24, color=INDIGO, anchor="center", family="Liberation Sans")
note("<b><i>Slight bearish</i></b>", 2120, 1193, size=23.5, color=BLUE, anchor="center", family="Liberation Sans")
note("<b><i>divergence, but</i></b>", 2120, 1221, size=23.5, color=BLUE, anchor="center", family="Liberation Sans")
note("<b><i>not in overbought</i></b>", 2120, 1250, size=23.5, color=BLUE, anchor="center", family="Liberation Sans")

note("A", 2371, 1368, size=16, anchor="center")
note("B", 2459, 1368, size=16, anchor="center")
note("TradingView", 49, 1416, size=19, color=DARK)

# price path arrows, tail given as a pixel offset from the tip
for x0, y0, x1, y1 in [(2147, 209, 2175, 116), (2123, 191, 2135, 219)]:
    annotations.append(dict(x=px(x1), y=py(y1), ax=x0 - x1, ay=y0 - y1, xref="paper", yref="paper", axref="pixel", ayref="pixel",
                            text="", showarrow=True, arrowhead=2, arrowsize=1, arrowwidth=4, arrowcolor="#000080"))

# TradingView mark
logo = [
    dict(type="rect", x0=px(15), x1=px(30), y0=py(1408), y1=py(1413.5)),
    dict(type="rect", x0=px(22), x1=px(30), y0=py(1408), y1=py(1423)),
    dict(type="circle", x0=px(31), x1=px(37), y0=py(1408), y1=py(1414)),
    dict(type="path", path=f"M {px(38)} {py(1408)} L {px(44)} {py(1408)} L {px(37)} {py(1423)} L {px(30.5)} {py(1423)} Z"),
]
for s in logo:
    s.update(xref="paper", yref="paper", fillcolor="#131722", line=dict(width=0))
shapes += logo

fig.update_layout(shapes=shapes, annotations=annotations)

# no body margin and no page overflow, the browser window is the same size as the figure
page_css = ("document.documentElement.style.overflow='hidden';document.body.style.margin='0';"
            "document.body.style.overflow='hidden';document.body.style.height='1442px';")
fig.write_html("out.html", config={"displayModeBar": False}, post_script=page_css)
